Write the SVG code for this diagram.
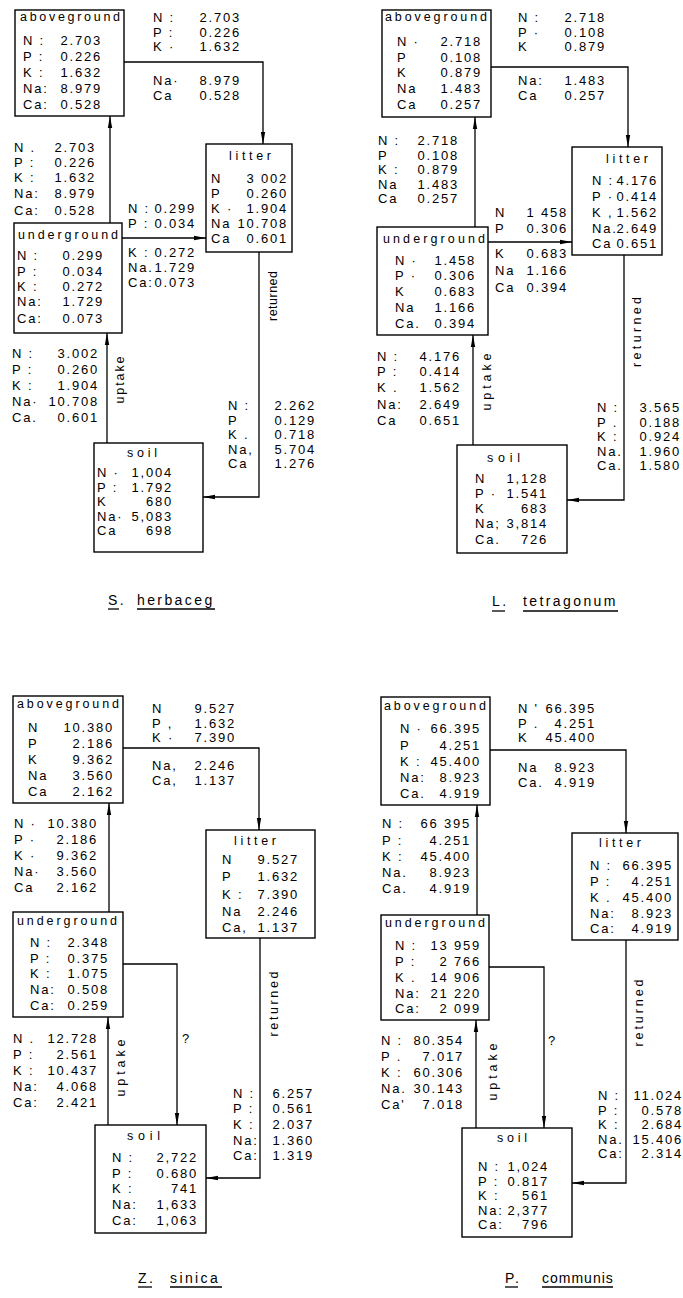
<svg xmlns="http://www.w3.org/2000/svg" width="683" height="1298" viewBox="0 0 683 1298">
<style>
text{font-family:"Liberation Sans",Arial,sans-serif;fill:#000}
.r{font-size:13px;letter-spacing:1.8px}
.v{text-anchor:end}
.h{font-size:12.5px}
.c{font-size:14px;letter-spacing:2.4px}
.box{fill:#fff;stroke:#000;stroke-width:1.4}
.ln{fill:none;stroke:#000;stroke-width:1.3}
.ul{stroke:#000;stroke-width:1.3}
</style>
<defs>
<marker id="ah" markerWidth="12" markerHeight="6" refX="12" refY="3" orient="auto" markerUnits="userSpaceOnUse"><path d="M0,0.8 L12,3 L0,5.2 z" fill="#000"/></marker>
</defs>
<rect width="683" height="1298" fill="#fff"/>

<g id="connectors">
<path class="ln" d="M124,62 H263 V144" marker-end="url(#ah)"/>
<path class="ln" d="M110,223 V116" marker-end="url(#ah)"/>
<path class="ln" d="M122,238 H206" marker-end="url(#ah)"/>
<path class="ln" d="M107,443 V333" marker-end="url(#ah)"/>
<path class="ln" d="M259,252 V497 H203" marker-end="url(#ah)"/>

<path class="ln" d="M491,67 H628 V147" marker-end="url(#ah)"/>
<path class="ln" d="M475,227 V117" marker-end="url(#ah)"/>
<path class="ln" d="M488,242 H572" marker-end="url(#ah)"/>
<path class="ln" d="M473,445 V335" marker-end="url(#ah)"/>
<path class="ln" d="M624,255 V500 H567" marker-end="url(#ah)"/>

<path class="ln" d="M123,748 H259 V830" marker-end="url(#ah)"/>
<path class="ln" d="M109,912 V803" marker-end="url(#ah)"/>
<path class="ln" d="M123,964 H177 V1125" marker-end="url(#ah)"/>
<path class="ln" d="M108,1125 V1017" marker-end="url(#ah)"/>
<path class="ln" d="M260,938 V1178 H206" marker-end="url(#ah)"/>

<path class="ln" d="M490,750 H626 V833" marker-end="url(#ah)"/>
<path class="ln" d="M477,915 V805" marker-end="url(#ah)"/>
<path class="ln" d="M489,967 H544 V1128" marker-end="url(#ah)"/>
<path class="ln" d="M476,1128 V1020" marker-end="url(#ah)"/>
<path class="ln" d="M626,940 V1183 H572" marker-end="url(#ah)"/>
</g>

<!-- ===== Diagram 1: S. herbacea ===== -->
<g id="d1-aboveground">
<rect class="box" x="15" y="10" width="109" height="106"/>
<text class="h" x="20" y="21" textLength="100" lengthAdjust="spacing">aboveground</text>
<text class="r" y="45"><tspan x="23">N :</tspan> <tspan class="v" x="102">2.703</tspan></text>
<text class="r" y="61"><tspan x="23">P :</tspan> <tspan class="v" x="102">0.226</tspan></text>
<text class="r" y="77"><tspan x="23">K :</tspan> <tspan class="v" x="102">1.632</tspan></text>
<text class="r" y="93"><tspan x="23">Na:</tspan> <tspan class="v" x="102">8.979</tspan></text>
<text class="r" y="109"><tspan x="23">Ca:</tspan> <tspan class="v" x="102">0.528</tspan></text>
</g>
<g id="d1-litter">
<rect class="box" x="206" y="144" width="86" height="108"/>
<text class="h" x="229" y="160" textLength="42" lengthAdjust="spacing">litter</text>
<text class="r" y="183"><tspan x="211">N</tspan> <tspan class="v" x="288">3 002</tspan></text>
<text class="r" y="198"><tspan x="211">P</tspan> <tspan class="v" x="288">0.260</tspan></text>
<text class="r" y="213"><tspan x="211">K ·</tspan> <tspan class="v" x="288">1.904</tspan></text>
<text class="r" y="228"><tspan x="211">Na</tspan> <tspan class="v" x="288">10.708</tspan></text>
<text class="r" y="243"><tspan x="211">Ca</tspan> <tspan class="v" x="288">0.601</tspan></text>
</g>
<g id="d1-underground">
<rect class="box" x="14" y="223" width="108" height="110"/>
<text class="h" x="18" y="239" textLength="100" lengthAdjust="spacing">underground</text>
<text class="r" y="260"><tspan x="17">N :</tspan> <tspan class="v" x="104">0.299</tspan></text>
<text class="r" y="276"><tspan x="17">P :</tspan> <tspan class="v" x="104">0.034</tspan></text>
<text class="r" y="291"><tspan x="17">K :</tspan> <tspan class="v" x="104">0.272</tspan></text>
<text class="r" y="306"><tspan x="17">Na:</tspan> <tspan class="v" x="104">1.729</tspan></text>
<text class="r" y="323"><tspan x="17">Ca:</tspan> <tspan class="v" x="104">0.073</tspan></text>
</g>
<g id="d1-soil">
<rect class="box" x="94" y="443" width="109" height="109"/>
<text class="h" x="127" y="457" textLength="30" lengthAdjust="spacing">soil</text>
<text class="r" y="477"><tspan x="97">N ·</tspan> <tspan class="v" x="173">1,004</tspan></text>
<text class="r" y="491.5"><tspan x="97">P :</tspan> <tspan class="v" x="173">1.792</tspan></text>
<text class="r" y="506"><tspan x="97">K</tspan> <tspan class="v" x="173">680</tspan></text>
<text class="r" y="520.5"><tspan x="97">Na·</tspan> <tspan class="v" x="173">5,083</tspan></text>
<text class="r" y="535"><tspan x="97">Ca</tspan> <tspan class="v" x="173">698</tspan></text>
</g>
<g id="d1-labels">
<text class="r" y="22"><tspan x="153">N :</tspan> <tspan class="v" x="241">2.703</tspan></text>
<text class="r" y="36.5"><tspan x="153">P :</tspan> <tspan class="v" x="241">0.226</tspan></text>
<text class="r" y="51"><tspan x="153">K ·</tspan> <tspan class="v" x="241">1.632</tspan></text>
<text class="r" y="85"><tspan x="153">Na·</tspan> <tspan class="v" x="241">8.979</tspan></text>
<text class="r" y="100"><tspan x="153">Ca</tspan> <tspan class="v" x="241">0.528</tspan></text>
<text class="r" y="152"><tspan x="14">N .</tspan> <tspan class="v" x="96">2.703</tspan></text>
<text class="r" y="167"><tspan x="14">P :</tspan> <tspan class="v" x="96">0.226</tspan></text>
<text class="r" y="182"><tspan x="14">K :</tspan> <tspan class="v" x="96">1.632</tspan></text>
<text class="r" y="198"><tspan x="14">Na:</tspan> <tspan class="v" x="96">8.979</tspan></text>
<text class="r" y="215"><tspan x="14">Ca:</tspan> <tspan class="v" x="96">0.528</tspan></text>
<text class="r" y="213"><tspan x="128">N :</tspan> <tspan class="v" x="196">0.299</tspan></text>
<text class="r" y="228"><tspan x="128">P :</tspan> <tspan class="v" x="196">0.034</tspan></text>
<text class="r" y="257"><tspan x="128">K :</tspan> <tspan class="v" x="196">0.272</tspan></text>
<text class="r" y="271.5"><tspan x="128">Na.</tspan> <tspan class="v" x="196">1.729</tspan></text>
<text class="r" y="287"><tspan x="128">Ca:</tspan> <tspan class="v" x="196">0.073</tspan></text>
<text class="r" y="358"><tspan x="12">N :</tspan> <tspan class="v" x="99">3.002</tspan></text>
<text class="r" y="374"><tspan x="12">P :</tspan> <tspan class="v" x="99">0.260</tspan></text>
<text class="r" y="390"><tspan x="12">K :</tspan> <tspan class="v" x="99">1.904</tspan></text>
<text class="r" y="406"><tspan x="12">Na·</tspan> <tspan class="v" x="99">10.708</tspan></text>
<text class="r" y="422"><tspan x="12">Ca.</tspan> <tspan class="v" x="99">0.601</tspan></text>
<text class="r" y="410"><tspan x="228">N :</tspan> <tspan class="v" x="316">2.262</tspan></text>
<text class="r" y="424.5"><tspan x="228">P</tspan> <tspan class="v" x="316">0.129</tspan></text>
<text class="r" y="439"><tspan x="228">K .</tspan> <tspan class="v" x="316">0.718</tspan></text>
<text class="r" y="453.5"><tspan x="228">Na,</tspan> <tspan class="v" x="316">5.704</tspan></text>
<text class="r" y="468"><tspan x="228">Ca</tspan> <tspan class="v" x="316">1.276</tspan></text>
<text class="h" transform="translate(124,380) rotate(-90)" text-anchor="middle" textLength="47" lengthAdjust="spacing">uptake</text>
<text class="h" transform="translate(277,296) rotate(-90)" text-anchor="middle" textLength="50" lengthAdjust="spacing">returned</text>
<text class="c" y="605"><tspan x="108">S.</tspan> <tspan x="137">herbaceg</tspan></text>
<line class="ul" x1="108" y1="609" x2="119" y2="609"/>
<line class="ul" x1="137" y1="609" x2="215" y2="609"/>
</g>

<!-- ===== Diagram 2: L. tetragonum ===== -->
<g id="d2-aboveground">
<rect class="box" x="382" y="10" width="109" height="107"/>
<text class="h" x="385" y="21" textLength="102" lengthAdjust="spacing">aboveground</text>
<text class="r" y="46"><tspan x="397">N ·</tspan> <tspan class="v" x="482">2.718</tspan></text>
<text class="r" y="62"><tspan x="397">P</tspan> <tspan class="v" x="482">0.108</tspan></text>
<text class="r" y="77"><tspan x="397">K</tspan> <tspan class="v" x="482">0.879</tspan></text>
<text class="r" y="93"><tspan x="397">Na</tspan> <tspan class="v" x="482">1.483</tspan></text>
<text class="r" y="109"><tspan x="397">Ca</tspan> <tspan class="v" x="482">0.257</tspan></text>
</g>
<g id="d2-litter">
<rect class="box" x="572" y="147" width="90" height="108"/>
<text class="h" x="606" y="163" textLength="42" lengthAdjust="spacing">litter</text>
<text class="r" y="185"><tspan x="592">N :</tspan> <tspan class="v" x="658">4.176</tspan></text>
<text class="r" y="201"><tspan x="592">P ·</tspan> <tspan class="v" x="658">0.414</tspan></text>
<text class="r" y="217"><tspan x="592">K ,</tspan> <tspan class="v" x="658">1.562</tspan></text>
<text class="r" y="233"><tspan x="592">Na.</tspan> <tspan class="v" x="658">2.649</tspan></text>
<text class="r" y="248"><tspan x="592">Ca</tspan> <tspan class="v" x="658">0.651</tspan></text>
</g>
<g id="d2-underground">
<rect class="box" x="377" y="227" width="111" height="108"/>
<text class="h" x="383" y="243" textLength="102" lengthAdjust="spacing">underground</text>
<text class="r" y="265"><tspan x="395">N ·</tspan> <tspan class="v" x="476">1.458</tspan></text>
<text class="r" y="280"><tspan x="395">P ·</tspan> <tspan class="v" x="476">0.306</tspan></text>
<text class="r" y="296"><tspan x="395">K</tspan> <tspan class="v" x="476">0.683</tspan></text>
<text class="r" y="312"><tspan x="395">Na</tspan> <tspan class="v" x="476">1.166</tspan></text>
<text class="r" y="328"><tspan x="395">Ca.</tspan> <tspan class="v" x="476">0.394</tspan></text>
</g>
<g id="d2-soil">
<rect class="box" x="457" y="445" width="110" height="108"/>
<text class="h" x="487" y="462" textLength="33" lengthAdjust="spacing">soil</text>
<text class="r" y="483"><tspan x="475">N</tspan> <tspan class="v" x="548">1,128</tspan></text>
<text class="r" y="498"><tspan x="475">P ·</tspan> <tspan class="v" x="548">1.541</tspan></text>
<text class="r" y="513"><tspan x="475">K</tspan> <tspan class="v" x="548">683</tspan></text>
<text class="r" y="528"><tspan x="475">Na;</tspan> <tspan class="v" x="548">3,814</tspan></text>
<text class="r" y="544"><tspan x="475">Ca.</tspan> <tspan class="v" x="548">726</tspan></text>
</g>
<g id="d2-labels">
<text class="r" y="22"><tspan x="518">N :</tspan> <tspan class="v" x="606">2.718</tspan></text>
<text class="r" y="36.5"><tspan x="518">P ·</tspan> <tspan class="v" x="606">0.108</tspan></text>
<text class="r" y="51"><tspan x="518">K</tspan> <tspan class="v" x="606">0.879</tspan></text>
<text class="r" y="85"><tspan x="518">Na:</tspan> <tspan class="v" x="606">1.483</tspan></text>
<text class="r" y="100"><tspan x="518">Ca</tspan> <tspan class="v" x="606">0.257</tspan></text>
<text class="r" y="145"><tspan x="378">N :</tspan> <tspan class="v" x="459">2.718</tspan></text>
<text class="r" y="159.5"><tspan x="378">P</tspan> <tspan class="v" x="459">0.108</tspan></text>
<text class="r" y="174"><tspan x="378">K :</tspan> <tspan class="v" x="459">0.879</tspan></text>
<text class="r" y="188.5"><tspan x="378">Na</tspan> <tspan class="v" x="459">1.483</tspan></text>
<text class="r" y="203"><tspan x="378">Ca</tspan> <tspan class="v" x="459">0.257</tspan></text>
<text class="r" y="217"><tspan x="495">N</tspan> <tspan class="v" x="568">1 458</tspan></text>
<text class="r" y="233"><tspan x="495">P</tspan> <tspan class="v" x="568">0.306</tspan></text>
<text class="r" y="258"><tspan x="495">K</tspan> <tspan class="v" x="568">0.683</tspan></text>
<text class="r" y="275"><tspan x="495">Na</tspan> <tspan class="v" x="568">1.166</tspan></text>
<text class="r" y="292"><tspan x="495">Ca</tspan> <tspan class="v" x="568">0.394</tspan></text>
<text class="r" y="361"><tspan x="377">N :</tspan> <tspan class="v" x="461">4.176</tspan></text>
<text class="r" y="376"><tspan x="377">P :</tspan> <tspan class="v" x="461">0.414</tspan></text>
<text class="r" y="392"><tspan x="377">K .</tspan> <tspan class="v" x="461">1.562</tspan></text>
<text class="r" y="409"><tspan x="377">Na:</tspan> <tspan class="v" x="461">2.649</tspan></text>
<text class="r" y="425"><tspan x="377">Ca</tspan> <tspan class="v" x="461">0.651</tspan></text>
<text class="r" y="412"><tspan x="597">N :</tspan> <tspan class="v" x="681">3.565</tspan></text>
<text class="r" y="426.5"><tspan x="597">P .</tspan> <tspan class="v" x="681">0.188</tspan></text>
<text class="r" y="441"><tspan x="597">K :</tspan> <tspan class="v" x="681">0.924</tspan></text>
<text class="r" y="455.5"><tspan x="597">Na.</tspan> <tspan class="v" x="681">1.960</tspan></text>
<text class="r" y="470"><tspan x="597">Ca.</tspan> <tspan class="v" x="681">1.580</tspan></text>
<text class="h" transform="translate(491,382) rotate(-90)" text-anchor="middle" textLength="57" lengthAdjust="spacing">uptake</text>
<text class="h" transform="translate(641,332) rotate(-90)" text-anchor="middle" textLength="70" lengthAdjust="spacing">returned</text>
<text class="c" y="606"><tspan x="492">L.</tspan> <tspan x="523">tetragonum</tspan></text>
<line class="ul" x1="492" y1="611" x2="505" y2="611"/>
<line class="ul" x1="523" y1="611" x2="618" y2="611"/>
</g>

<!-- ===== Diagram 3: Z. sinica ===== -->
<g id="d3-aboveground">
<rect class="box" x="13" y="696" width="110" height="107"/>
<text class="h" x="17" y="708" textLength="102" lengthAdjust="spacing">aboveground</text>
<text class="r" y="732"><tspan x="28">N</tspan> <tspan class="v" x="114">10.380</tspan></text>
<text class="r" y="748"><tspan x="28">P</tspan> <tspan class="v" x="114">2.186</tspan></text>
<text class="r" y="764"><tspan x="28">K</tspan> <tspan class="v" x="114">9.362</tspan></text>
<text class="r" y="780"><tspan x="28">Na</tspan> <tspan class="v" x="114">3.560</tspan></text>
<text class="r" y="796"><tspan x="28">Ca</tspan> <tspan class="v" x="114">2.162</tspan></text>
</g>
<g id="d3-litter">
<rect class="box" x="206" y="830" width="109" height="108"/>
<text class="h" x="234" y="845" textLength="42" lengthAdjust="spacing">litter</text>
<text class="r" y="864"><tspan x="222">N</tspan> <tspan class="v" x="299">9.527</tspan></text>
<text class="r" y="881"><tspan x="222">P</tspan> <tspan class="v" x="299">1.632</tspan></text>
<text class="r" y="899"><tspan x="222">K :</tspan> <tspan class="v" x="299">7.390</tspan></text>
<text class="r" y="916"><tspan x="222">Na</tspan> <tspan class="v" x="299">2.246</tspan></text>
<text class="r" y="932"><tspan x="222">Ca,</tspan> <tspan class="v" x="299">1.137</tspan></text>
</g>
<g id="d3-underground">
<rect class="box" x="13" y="912" width="110" height="105"/>
<text class="h" x="17" y="925" textLength="100" lengthAdjust="spacing">underground</text>
<text class="r" y="947"><tspan x="30">N :</tspan> <tspan class="v" x="109">2.348</tspan></text>
<text class="r" y="963"><tspan x="30">P :</tspan> <tspan class="v" x="109">0.375</tspan></text>
<text class="r" y="978"><tspan x="30">K :</tspan> <tspan class="v" x="109">1.075</tspan></text>
<text class="r" y="994"><tspan x="30">Na:</tspan> <tspan class="v" x="109">0.508</tspan></text>
<text class="r" y="1010"><tspan x="30">Ca:</tspan> <tspan class="v" x="109">0.259</tspan></text>
</g>
<g id="d3-soil">
<rect class="box" x="95" y="1125" width="111" height="108"/>
<text class="h" x="127" y="1140" textLength="33" lengthAdjust="spacing">soil</text>
<text class="r" y="1162"><tspan x="112">N :</tspan> <tspan class="v" x="198">2,722</tspan></text>
<text class="r" y="1178"><tspan x="112">P :</tspan> <tspan class="v" x="198">0.680</tspan></text>
<text class="r" y="1193"><tspan x="112">K :</tspan> <tspan class="v" x="198">741</tspan></text>
<text class="r" y="1209"><tspan x="112">Na:</tspan> <tspan class="v" x="198">1,633</tspan></text>
<text class="r" y="1225"><tspan x="112">Ca:</tspan> <tspan class="v" x="198">1,063</tspan></text>
</g>
<g id="d3-labels">
<text class="r" y="713"><tspan x="152">N</tspan> <tspan class="v" x="236">9.527</tspan></text>
<text class="r" y="727.5"><tspan x="152">P ,</tspan> <tspan class="v" x="236">1.632</tspan></text>
<text class="r" y="742"><tspan x="152">K ·</tspan> <tspan class="v" x="236">7.390</tspan></text>
<text class="r" y="770"><tspan x="152">Na,</tspan> <tspan class="v" x="236">2.246</tspan></text>
<text class="r" y="785"><tspan x="152">Ca,</tspan> <tspan class="v" x="236">1.137</tspan></text>
<text class="r" y="828"><tspan x="14">N ·</tspan> <tspan class="v" x="98">10.380</tspan></text>
<text class="r" y="844"><tspan x="14">P ·</tspan> <tspan class="v" x="98">2.186</tspan></text>
<text class="r" y="860"><tspan x="14">K ·</tspan> <tspan class="v" x="98">9.362</tspan></text>
<text class="r" y="876"><tspan x="14">Na·</tspan> <tspan class="v" x="98">3.560</tspan></text>
<text class="r" y="892"><tspan x="14">Ca</tspan> <tspan class="v" x="98">2.162</tspan></text>
<text class="r" y="1043"><tspan x="13">N .</tspan> <tspan class="v" x="98">12.728</tspan></text>
<text class="r" y="1059"><tspan x="13">P :</tspan> <tspan class="v" x="98">2.561</tspan></text>
<text class="r" y="1075"><tspan x="13">K :</tspan> <tspan class="v" x="98">10.437</tspan></text>
<text class="r" y="1091"><tspan x="13">Na:</tspan> <tspan class="v" x="98">4.068</tspan></text>
<text class="r" y="1107"><tspan x="13">Ca:</tspan> <tspan class="v" x="98">2.421</tspan></text>
<text class="r" y="1098"><tspan x="233">N :</tspan> <tspan class="v" x="314">6.257</tspan></text>
<text class="r" y="1113"><tspan x="233">P :</tspan> <tspan class="v" x="314">0.561</tspan></text>
<text class="r" y="1129"><tspan x="233">K :</tspan> <tspan class="v" x="314">2.037</tspan></text>
<text class="r" y="1144.5"><tspan x="233">Na:</tspan> <tspan class="v" x="314">1.360</tspan></text>
<text class="r" y="1160"><tspan x="233">Ca:</tspan> <tspan class="v" x="314">1.319</tspan></text>
<text class="r" x="182" y="1043">?</text>
<text class="h" transform="translate(125,1068) rotate(-90)" text-anchor="middle" textLength="57" lengthAdjust="spacing">uptake</text>
<text class="h" transform="translate(278,1004) rotate(-90)" text-anchor="middle" textLength="65" lengthAdjust="spacing">returned</text>
<text class="c" y="1283"><tspan x="138">Z.</tspan> <tspan x="170">sinica</tspan></text>
<line class="ul" x1="138" y1="1287" x2="152" y2="1287"/>
<line class="ul" x1="170" y1="1287" x2="222" y2="1287"/>
</g>

<!-- ===== Diagram 4: P. communis ===== -->
<g id="d4-aboveground">
<rect class="box" x="381" y="697" width="109" height="108"/>
<text class="h" x="384" y="710" textLength="102" lengthAdjust="spacing">aboveground</text>
<text class="r" y="733"><tspan x="400">N ·</tspan> <tspan class="v" x="481">66.395</tspan></text>
<text class="r" y="750"><tspan x="400">P</tspan> <tspan class="v" x="481">4.251</tspan></text>
<text class="r" y="766"><tspan x="400">K :</tspan> <tspan class="v" x="481">45.400</tspan></text>
<text class="r" y="782"><tspan x="400">Na:</tspan> <tspan class="v" x="481">8.923</tspan></text>
<text class="r" y="798"><tspan x="400">Ca.</tspan> <tspan class="v" x="481">4.919</tspan></text>
</g>
<g id="d4-litter">
<rect class="box" x="572" y="833" width="106" height="107"/>
<text class="h" x="599" y="847" textLength="42" lengthAdjust="spacing">litter</text>
<text class="r" y="870"><tspan x="590">N :</tspan> <tspan class="v" x="673">66.395</tspan></text>
<text class="r" y="886"><tspan x="590">P :</tspan> <tspan class="v" x="673">4.251</tspan></text>
<text class="r" y="902"><tspan x="590">K .</tspan> <tspan class="v" x="673">45.400</tspan></text>
<text class="r" y="918"><tspan x="590">Na:</tspan> <tspan class="v" x="673">8.923</tspan></text>
<text class="r" y="933"><tspan x="590">Ca:</tspan> <tspan class="v" x="673">4.919</tspan></text>
</g>
<g id="d4-underground">
<rect class="box" x="381" y="915" width="108" height="105"/>
<text class="h" x="385" y="927" textLength="100" lengthAdjust="spacing">underground</text>
<text class="r" y="950"><tspan x="395">N :</tspan> <tspan class="v" x="481">13 959</tspan></text>
<text class="r" y="966"><tspan x="395">P :</tspan> <tspan class="v" x="481">2 766</tspan></text>
<text class="r" y="982"><tspan x="395">K .</tspan> <tspan class="v" x="481">14 906</tspan></text>
<text class="r" y="998"><tspan x="395">Na:</tspan> <tspan class="v" x="481">21 220</tspan></text>
<text class="r" y="1013"><tspan x="395">Ca:</tspan> <tspan class="v" x="481">2 099</tspan></text>
</g>
<g id="d4-soil">
<rect class="box" x="462" y="1128" width="110" height="109"/>
<text class="h" x="497" y="1142" textLength="30" lengthAdjust="spacing">soil</text>
<text class="r" y="1171"><tspan x="478">N :</tspan> <tspan class="v" x="549">1,024</tspan></text>
<text class="r" y="1185.5"><tspan x="478">P :</tspan> <tspan class="v" x="549">0.817</tspan></text>
<text class="r" y="1200"><tspan x="478">K :</tspan> <tspan class="v" x="549">561</tspan></text>
<text class="r" y="1214.5"><tspan x="478">Na:</tspan> <tspan class="v" x="549">2,377</tspan></text>
<text class="r" y="1229"><tspan x="478">Ca:</tspan> <tspan class="v" x="549">796</tspan></text>
</g>
<g id="d4-labels">
<text class="r" y="713"><tspan x="518">N '</tspan> <tspan class="v" x="596">66.395</tspan></text>
<text class="r" y="727.5"><tspan x="518">P .</tspan> <tspan class="v" x="596">4.251</tspan></text>
<text class="r" y="742"><tspan x="518">K</tspan> <tspan class="v" x="596">45.400</tspan></text>
<text class="r" y="772"><tspan x="518">Na</tspan> <tspan class="v" x="596">8.923</tspan></text>
<text class="r" y="787"><tspan x="518">Ca.</tspan> <tspan class="v" x="596">4.919</tspan></text>
<text class="r" y="828"><tspan x="382">N :</tspan> <tspan class="v" x="471">66 395</tspan></text>
<text class="r" y="845"><tspan x="382">P :</tspan> <tspan class="v" x="471">4.251</tspan></text>
<text class="r" y="861"><tspan x="382">K :</tspan> <tspan class="v" x="471">45.400</tspan></text>
<text class="r" y="877"><tspan x="382">Na.</tspan> <tspan class="v" x="471">8.923</tspan></text>
<text class="r" y="893"><tspan x="382">Ca.</tspan> <tspan class="v" x="471">4.919</tspan></text>
<text class="r" y="1045"><tspan x="381">N :</tspan> <tspan class="v" x="464">80.354</tspan></text>
<text class="r" y="1061"><tspan x="381">P .</tspan> <tspan class="v" x="464">7.017</tspan></text>
<text class="r" y="1077"><tspan x="381">K :</tspan> <tspan class="v" x="464">60.306</tspan></text>
<text class="r" y="1093"><tspan x="381">Na.</tspan> <tspan class="v" x="464">30.143</tspan></text>
<text class="r" y="1109"><tspan x="381">Ca'</tspan> <tspan class="v" x="464">7.018</tspan></text>
<text class="r" y="1100"><tspan x="598">N :</tspan> <tspan class="v" x="683">11.024</tspan></text>
<text class="r" y="1114.5"><tspan x="598">P :</tspan> <tspan class="v" x="683">0.578</tspan></text>
<text class="r" y="1129"><tspan x="598">K :</tspan> <tspan class="v" x="683">2.684</tspan></text>
<text class="r" y="1143.5"><tspan x="598">Na.</tspan> <tspan class="v" x="683">15.406</tspan></text>
<text class="r" y="1158"><tspan x="598">Ca:</tspan> <tspan class="v" x="683">2.314</tspan></text>
<text class="r" x="548" y="1045">?</text>
<text class="h" transform="translate(497,1072) rotate(-90)" text-anchor="middle" textLength="57" lengthAdjust="spacing">uptake</text>
<text class="h" transform="translate(643,1013) rotate(-90)" text-anchor="middle" textLength="67" lengthAdjust="spacing">returned</text>
<text class="c" y="1283"><tspan x="505">P.</tspan> <tspan x="542" style="letter-spacing:1px">communis</tspan></text>
<line class="ul" x1="505" y1="1287" x2="518" y2="1287"/>
<line class="ul" x1="542" y1="1287" x2="613" y2="1287"/>
</g>
</svg>
